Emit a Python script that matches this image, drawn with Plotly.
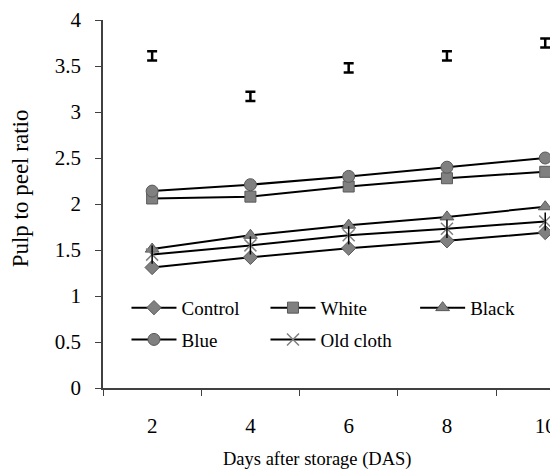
import plotly.graph_objects as go

days = [2, 4, 6, 8, 10]
control = [1.31, 1.42, 1.52, 1.60, 1.69]
white = [2.06, 2.08, 2.19, 2.28, 2.35]
black = [1.51, 1.66, 1.77, 1.86, 1.97]
blue = [2.14, 2.21, 2.30, 2.40, 2.50]
old_cloth = [1.45, 1.55, 1.66, 1.73, 1.81]
lsd_pos = [3.61, 3.17, 3.48, 3.61, 3.75]
lsd_err = [0.05, 0.05, 0.05, 0.05, 0.05]
x_tick_text = ["2", "4", "6", "8", "10"]
y_ticks = [0, 0.5, 1, 1.5, 2, 2.5, 3, 3.5, 4]
y_tick_text = ["0", "0.5", "1", "1.5", "2", "2.5", "3", "3.5", "4"]

FONT = "Liberation Serif"
GRAY = "#808080"
EDGE = "#595959"

fig = go.Figure()

def add(name, ys, symbol, size, legend):
    fig.add_trace(go.Scatter(
        x=days, y=ys, name=name, mode="lines+markers", legend=legend,
        cliponaxis=False,
        line=dict(color="black", width=2),
        marker=dict(symbol=symbol, size=size, color=GRAY,
                    line=dict(color=EDGE, width=1)),
    ))

add("Control", control, "diamond", 11, "legend")
add("White", white, "square", 11, "legend")
add("Black", black, "triangle-up", 12, "legend3")
add("Blue", blue, "circle", 12, "legend2")

fig.add_trace(go.Scatter(
    x=days, y=old_cloth, name="Old cloth", mode="lines+markers", legend="legend2",
    cliponaxis=False,
    line=dict(color="black", width=2),
    marker=dict(symbol="x-thin-open", size=12, color=GRAY,
                line=dict(color=GRAY, width=1.5)),
))
fig.add_trace(go.Scatter(
    x=days, y=old_cloth, mode="markers", showlegend=False, hoverinfo="skip",
    cliponaxis=False,
    marker=dict(symbol="line-ns-open", size=13, color="black",
                line=dict(color="black", width=1.5)),
))

fig.add_trace(go.Scatter(
    x=days, y=lsd_pos, mode="markers", showlegend=False, cliponaxis=False,
    marker=dict(size=1, color="rgba(0,0,0,0)"),
    error_y=dict(type="data", array=lsd_err, visible=True,
                 color="black", thickness=2.5, width=5),
))

leg_common = dict(
    orientation="h", xanchor="left", yanchor="middle",
    font=dict(family=FONT, size=19), bgcolor="rgba(0,0,0,0)",
    entrywidth=79, entrywidthmode="pixels", itemclick=False, itemwidth=45,
)

# page body adds an 8px offset; figure is sized so the plot lands where the reference has it
fig.update_layout(
    width=550, height=466,
    margin=dict(l=95, r=0, t=12, b=85.5, autoexpand=False),
    paper_bgcolor="white", plot_bgcolor="white",
    font=dict(family=FONT, color="black"),
    xaxis=dict(
        range=[1, 10.26], tickvals=days, ticktext=x_tick_text,
        showgrid=False, showline=True, linecolor="#404040", linewidth=1.5,
        ticks="", automargin=False,
        minor=dict(ticks="outside", ticklen=6, tick0=1, dtick=2,
                   tickcolor="#404040", showgrid=False),
        tickfont=dict(family=FONT, size=21), ticklabelstandoff=18,
        zeroline=False,
    ),
    yaxis=dict(
        range=[0, 4], tickvals=y_ticks, ticktext=y_tick_text,
        showgrid=False, showline=True, linecolor="#404040", linewidth=1.5,
        ticks="outside", ticklen=6, tickcolor="#404040", automargin=False,
        tickfont=dict(family=FONT, size=21), ticklabelstandoff=10,
        zeroline=False,
    ),
    legend=dict(x=0.0516, y=0.218, **leg_common),
    legend3=dict(x=0.686, y=0.218, **leg_common),
    legend2=dict(x=0.0516, y=0.1316, **leg_common),
    annotations=[
        dict(text="Pulp to peel ratio", x=-0.182, y=0.543, xref="paper", yref="paper",
             textangle=-90, showarrow=False, font=dict(family=FONT, size=23),
             xanchor="center", yanchor="middle"),
        dict(text="Days after storage (DAS)", x=0.4725, y=-0.195, xref="paper", yref="paper",
             showarrow=False, font=dict(family=FONT, size=18.5),
             xanchor="center", yanchor="middle"),
    ],
)

fig.write_html("out.html")
